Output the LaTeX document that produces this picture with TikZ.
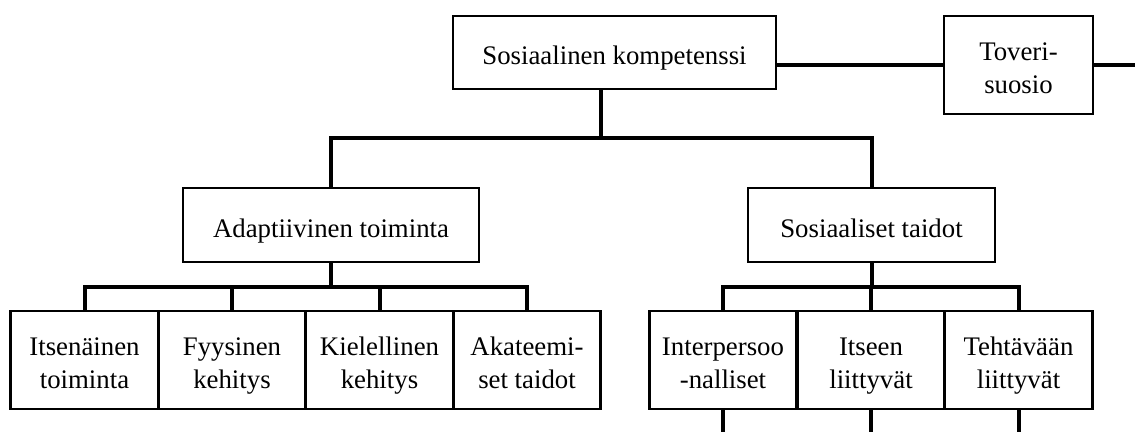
\documentclass[tikz,border=0pt]{standalone}
\usepackage{fontspec}
\setmainfont{Liberation Serif}
% one line of box text with a fixed height and depth, so that every box
% places its baselines the same way
\newcommand\rowtext[1]{\rule[-4.5pt]{0pt}{33pt}\smash{#1}}
\begin{document}
\begin{tikzpicture}[x=1pt,y=-1pt,
  box/.style={draw, line width=2.7pt, fill=white, inner sep=0pt, outer sep=0pt,
    align=center, anchor=center, font=\fontsize{26.8}{33}\selectfont},
  leaf/.style={box, minimum width=147.5pt, minimum height=98pt},
  link/.style={line width=4pt}]
\useasboundingbox (0,0) rectangle (1135,432);

% junction points of the tree
\coordinate (hub) at (601,138);
\coordinate (ha) at (331,287);
\coordinate (hs) at (871.5,287);
\coordinate (exit) at (1135,65);
\coordinate (base) at (0,432);

% top level
\node[box, minimum width=323pt, minimum height=73pt] (top) at (614.5,52.5) {\rowtext{Sosiaalinen kompetenssi}};
\node[box, minimum width=149pt, minimum height=98pt] (tov) at (1018.5,65) {\rowtext{Toveri-}\\\rowtext{suosio}};

% second level
\node[box, minimum width=296pt, minimum height=74pt] (adapt) at (331,225) {\rowtext{Adaptiivinen toiminta}};
\node[box, minimum width=247pt, minimum height=74pt] (sos) at (871.5,225) {\rowtext{Sosiaaliset taidot}};

% third level
\node[leaf] (i1) at (84.5,360) {\rowtext{Itsenäinen}\\\rowtext{toiminta}};
\node[leaf] (i2) at (232,360) {\rowtext{Fyysinen}\\\rowtext{kehitys}};
\node[leaf] (i3) at (379.5,360) {\rowtext{Kielellinen}\\\rowtext{kehitys}};
\node[leaf] (i4) at (527,360) {\rowtext{Akateemi-}\\\rowtext{set taidot}};
\node[leaf] (s1) at (723,360) {\rowtext{Interpersoo}\\\rowtext{-nalliset}};
\node[leaf] (s2) at (871,360) {\rowtext{Itseen}\\\rowtext{liittyvät}};
\node[leaf] (s3) at (1018.5,360) {\rowtext{Tehtävään}\\\rowtext{liittyvät}};

% upper connectors
\draw[link] (tov.west) -- (tov.west -| top.east);
\draw[link] (tov.east) -- (exit);
\draw[link] (top.south -| hub) -- (hub);
\draw[link] (adapt.north) -- (adapt.north |- hub) -- (sos.north |- hub) -- (sos.north);

% lower connectors
\draw[link] (adapt.south) -- (ha);
\draw[link] (i1.north) -- (i1.north |- ha) -- (i4.north |- ha) -- (i4.north);
\draw[link] (i2.north) -- (i2.north |- ha);
\draw[link] (i3.north) -- (i3.north |- ha);

\draw[link] (sos.south) -- (hs);
\draw[link] (s1.north) -- (s1.north |- hs) -- (s3.north |- hs) -- (s3.north);
\draw[link] (s2.north) -- (s2.north |- hs);

\draw[link] (s1.south) -- (s1.south |- base);
\draw[link] (s2.south) -- (s2.south |- base);
\draw[link] (s3.south) -- (s3.south |- base);
\end{tikzpicture}
\end{document}
